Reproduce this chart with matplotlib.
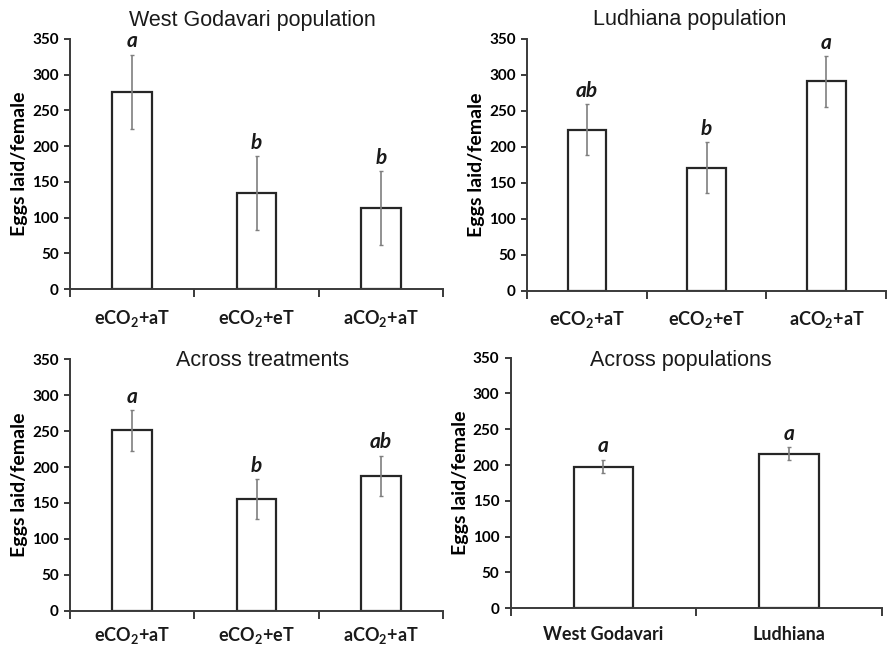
import matplotlib
matplotlib.use("Agg")
import matplotlib.pyplot as plt
import matplotlib.transforms as mtransforms
import numpy as np

plt.rcParams['mathtext.fontset'] = 'custom'
plt.rcParams['mathtext.rm'] = 'Lato:bold'
plt.rcParams['mathtext.bf'] = 'Lato:bold'

treatments = [r'eCO$_{2}$+aT', r'eCO$_{2}$+eT', r'aCO$_{2}$+aT']
populations = ['West Godavari', 'Ludhiana']

wg_means = [276, 134, 113]
wg_err = [52, 52, 52]
wg_letters = ['a', 'b', 'b']

lu_means = [224, 171, 291]
lu_err = [35, 35, 35]
lu_letters = ['ab', 'b', 'a']

tr_means = [251, 155, 188]
tr_err = [28, 28, 28]
tr_letters = ['a', 'b', 'ab']

pop_means = [198, 216]
pop_err = [9, 9]
pop_letters = ['a', 'a']

yticks = [0, 50, 100, 150, 200, 250, 300, 350]

fig = plt.figure(figsize=(8.88, 6.48), dpi=100)

axcol = '#3a3a3a'

panels = [
    # rect, categories, means, errs, letters, title, title_x, title_y, label offset (px)
    ([0.0788, 0.554, 0.4202, 0.386], treatments, wg_means, wg_err, wg_letters,
     'West Godavari population', 0.49, 1.075, 29),
    ([0.5935, 0.5514, 0.4045, 0.3886], treatments, lu_means, lu_err, lu_letters,
     'Ludhiana population', 0.453, 1.075, 29),
    ([0.0788, 0.0576, 0.4202, 0.3879], treatments, tr_means, tr_err, tr_letters,
     'Across treatments', 0.517, 0.995, 25),
    ([0.575, 0.0613, 0.418, 0.3867], populations, pop_means, pop_err, pop_letters,
     'Across populations', 0.459, 0.99, 26),
]

for rect, cats, means, errs, letters, title, tx, ty, loff in panels:
    ax = fig.add_axes(rect)
    n = len(cats)
    x = np.arange(n)
    ax.bar(x, means, width=0.32, color='white', edgecolor='#262626',
           linewidth=1.6, zorder=2)
    ax.errorbar(x, means, yerr=errs, fmt='none', ecolor='#7f7f7f',
                elinewidth=1.2, capsize=1.5, capthick=1.0, zorder=3)
    for xi, m, e, lab in zip(x, means, errs, letters):
        ax.text(xi, m + e + 5, lab, ha='center', va='bottom',
                fontsize=15, fontweight='bold', fontstyle='italic',
                family='Lato', color='#1a1a1a')
    ax.set_xlim(-0.5, n - 0.5)
    ax.set_ylim(0, 350)
    ax.set_yticks(yticks)
    ax.set_yticklabels([str(v) for v in yticks], fontsize=11,
                       fontweight='bold', family='Lato')
    ax.set_xticks(np.arange(n + 1) - 0.5)
    ax.set_xticklabels([''] * (n + 1))
    ax.tick_params(axis='x', length=6, width=1.4, color=axcol, direction='out')
    ax.tick_params(axis='y', length=4, width=1.4, color=axcol, direction='out',
                   pad=4)
    trans = ax.get_xaxis_transform() + mtransforms.ScaledTranslation(
        0, -loff / 100.0, fig.dpi_scale_trans)
    for xi, c in zip(x, cats):
        ax.text(xi, 0, c, transform=trans,
                ha='center', va='center', fontsize=13, fontweight='bold',
                family='Lato', color='#1a1a1a')
    for s in ['top', 'right']:
        ax.spines[s].set_visible(False)
    for s in ['left', 'bottom']:
        ax.spines[s].set_color(axcol)
        ax.spines[s].set_linewidth(1.4)
    ax.set_ylabel('Eggs laid/female', fontsize=14, fontweight='bold',
                  family='Lato', labelpad=3)
    ax.text(tx, ty, title, transform=ax.transAxes, ha='center',
            va='center', fontsize=15.5, family='Liberation Sans',
            color='#1a1a1a')

fig.savefig('out.png', dpi=100, facecolor='white')
